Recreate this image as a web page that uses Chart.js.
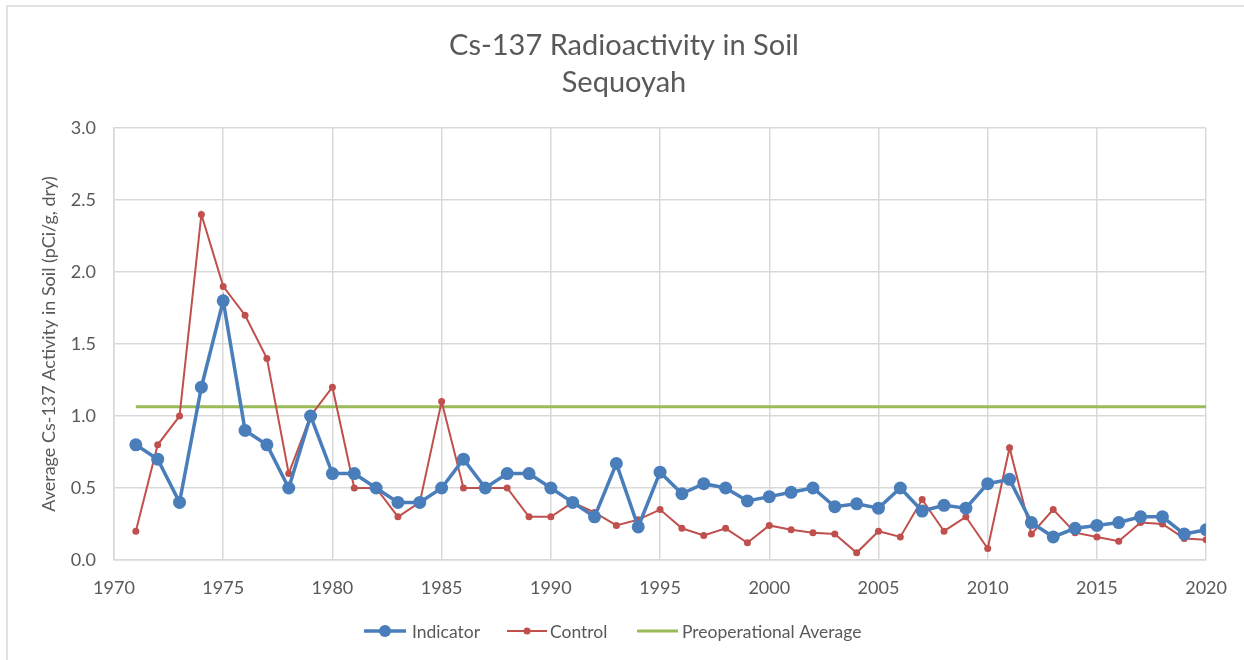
<!DOCTYPE html>
<html>
<head>
<meta charset="utf-8">
<script src="https://cdn.jsdelivr.net/npm/chart.js@4/dist/chart.umd.min.js"></script>
<style>
  html, body { margin: 0; padding: 0; background: #ffffff; }
  #wrap { position: relative; width: 1244px; height: 660px; }
  canvas { display: block; }
</style>
</head>
<body>
<div id="wrap"><canvas id="c" width="1244" height="660"></canvas></div>
<script>
const titleLines = ["Cs-137 Radioactivity in Soil", "Sequoyah"];
const yAxisTitle = "Average Cs-137 Activity in Soil (pCi/g, dry)";
const years = [1971,1972,1973,1974,1975,1976,1977,1978,1979,1980,1981,1982,1983,1984,1985,1986,1987,1988,1989,1990,1991,1992,1993,1994,1995,1996,1997,1998,1999,2000,2001,2002,2003,2004,2005,2006,2007,2008,2009,2010,2011,2012,2013,2014,2015,2016,2017,2018,2019,2020];
const indicator = [0.80,0.70,0.40,1.20,1.80,0.90,0.80,0.50,1.00,0.60,0.60,0.50,0.40,0.40,0.50,0.70,0.50,0.60,0.60,0.50,0.40,0.30,0.67,0.23,0.61,0.46,0.53,0.50,0.41,0.44,0.47,0.50,0.37,0.39,0.36,0.50,0.34,0.38,0.36,0.53,0.56,0.26,0.16,0.22,0.24,0.26,0.30,0.30,0.18,0.21];
const control = [0.20,0.80,1.00,2.40,1.90,1.70,1.40,0.60,1.00,1.20,0.50,0.50,0.30,0.40,1.10,0.50,0.50,0.50,0.30,0.30,0.40,0.33,0.24,0.28,0.35,0.22,0.17,0.22,0.12,0.24,0.21,0.19,0.18,0.05,0.20,0.16,0.42,0.20,0.30,0.08,0.78,0.18,0.35,0.19,0.16,0.13,0.26,0.25,0.15,0.14];
const preopYears = [1971, 2020];
const preopAverage = 1.065;
const seriesNames = ["Indicator", "Control", "Preoperational Average"];
const xTickMin = 1970, xTickMax = 2020, xTickStep = 5;
const yTickMin = 0, yTickMax = 3, yTickStep = 0.5;

const FONT = "Lato, 'Open Sans', sans-serif";
const TEXT = "#595959";
const GRID = "#d9d9d9";
const BLUE = "#4a7ebb";
const RED = "#c0504d";
const GREEN = "#9bbb59";

const toPts = (xs, ys) => xs.map((x, i) => ({ x: x, y: ys[i] }));

const decorPlugin = {
  id: 'decor',
  afterDraw(chart) {
    const ctx = chart.ctx;
    ctx.save();
    // outer frame
    ctx.strokeStyle = "#d9d9d9";
    ctx.lineWidth = 1.5;
    ctx.beginPath();
    ctx.moveTo(7, 660); ctx.lineTo(7, 6); ctx.lineTo(1244, 6);
    ctx.stroke();

    // title, centred on the whole chart
    ctx.fillStyle = TEXT;
    ctx.textAlign = "center";
    ctx.textBaseline = "middle";
    ctx.font = "29px " + FONT;
    ctx.fillText(titleLines[0], 624, 46);
    ctx.fillText(titleLines[1], 624, 83);

    // legend
    const y = 631;
    const items = [
      { name: seriesNames[0], color: BLUE, lw: 3.5, r: 6, x0: 364, x1: 406, tx: 412 },
      { name: seriesNames[1], color: RED, lw: 2, r: 3.5, x0: 507, x1: 547, tx: 550 },
      { name: seriesNames[2], color: GREEN, lw: 3, r: 0, x0: 637, x1: 678, tx: 682 }
    ];
    ctx.font = "17.5px " + FONT;
    ctx.textAlign = "left";
    items.forEach(it => {
      ctx.strokeStyle = it.color;
      ctx.lineWidth = it.lw;
      ctx.beginPath();
      ctx.moveTo(it.x0, y); ctx.lineTo(it.x1, y);
      ctx.stroke();
      if (it.r > 0) {
        ctx.fillStyle = it.color;
        ctx.beginPath();
        ctx.arc((it.x0 + it.x1) / 2, y, it.r, 0, Math.PI * 2);
        ctx.fill();
      }
      ctx.fillStyle = TEXT;
      ctx.fillText(it.name, it.tx, y + 1);
    });
    ctx.restore();
  }
};

new Chart(document.getElementById('c'), {
  type: 'line',
  data: {
    datasets: [
      {
        label: seriesNames[0],
        data: toPts(years, indicator),
        borderColor: BLUE, backgroundColor: BLUE,
        borderWidth: 3.5, pointRadius: 6.5, pointBorderWidth: 0,
        pointBackgroundColor: BLUE, tension: 0, order: 1
      },
      {
        label: seriesNames[1],
        data: toPts(years, control),
        borderColor: RED, backgroundColor: RED,
        borderWidth: 2, pointRadius: 3.5, pointBorderWidth: 0,
        pointBackgroundColor: RED, tension: 0, order: 2
      },
      {
        label: seriesNames[2],
        data: toPts(preopYears, [preopAverage, preopAverage]),
        borderColor: GREEN, backgroundColor: GREEN,
        borderWidth: 3, pointRadius: 0, tension: 0, order: 3
      }
    ]
  },
  options: {
    responsive: false,
    animation: false,
    events: [],
    layout: { padding: { left: 0, right: 37, top: 128, bottom: 0 } },
    plugins: {
      legend: { display: false },
      tooltip: { enabled: false },
      title: { display: false }
    },
    scales: {
      x: {
        type: 'linear',
        min: xTickMin, max: xTickMax,
        grid: { color: GRID, lineWidth: 1.5, drawTicks: false },
        border: { color: GRID, width: 1.5 },
        ticks: {
          stepSize: xTickStep, padding: 17, color: TEXT,
          font: { family: FONT, size: 18 },
          callback: v => String(v), maxRotation: 0
        },
        afterFit: s => { s.height = 100; }
      },
      y: {
        min: yTickMin, max: yTickMax,
        grid: { color: GRID, lineWidth: 1.5, drawTicks: false },
        border: { color: GRID, width: 1.5 },
        ticks: {
          stepSize: yTickStep, padding: 18, color: TEXT,
          font: { family: FONT, size: 18 },
          callback: v => Number(v).toFixed(1)
        },
        title: {
          display: true, text: yAxisTitle, color: TEXT,
          font: { family: FONT, size: 18, weight: 'normal' },
          padding: { top: 38, bottom: 0 }
        },
        afterFit: s => { s.width = 114; }
      }
    }
  },
  plugins: [decorPlugin]
});
</script>
</body>
</html>
